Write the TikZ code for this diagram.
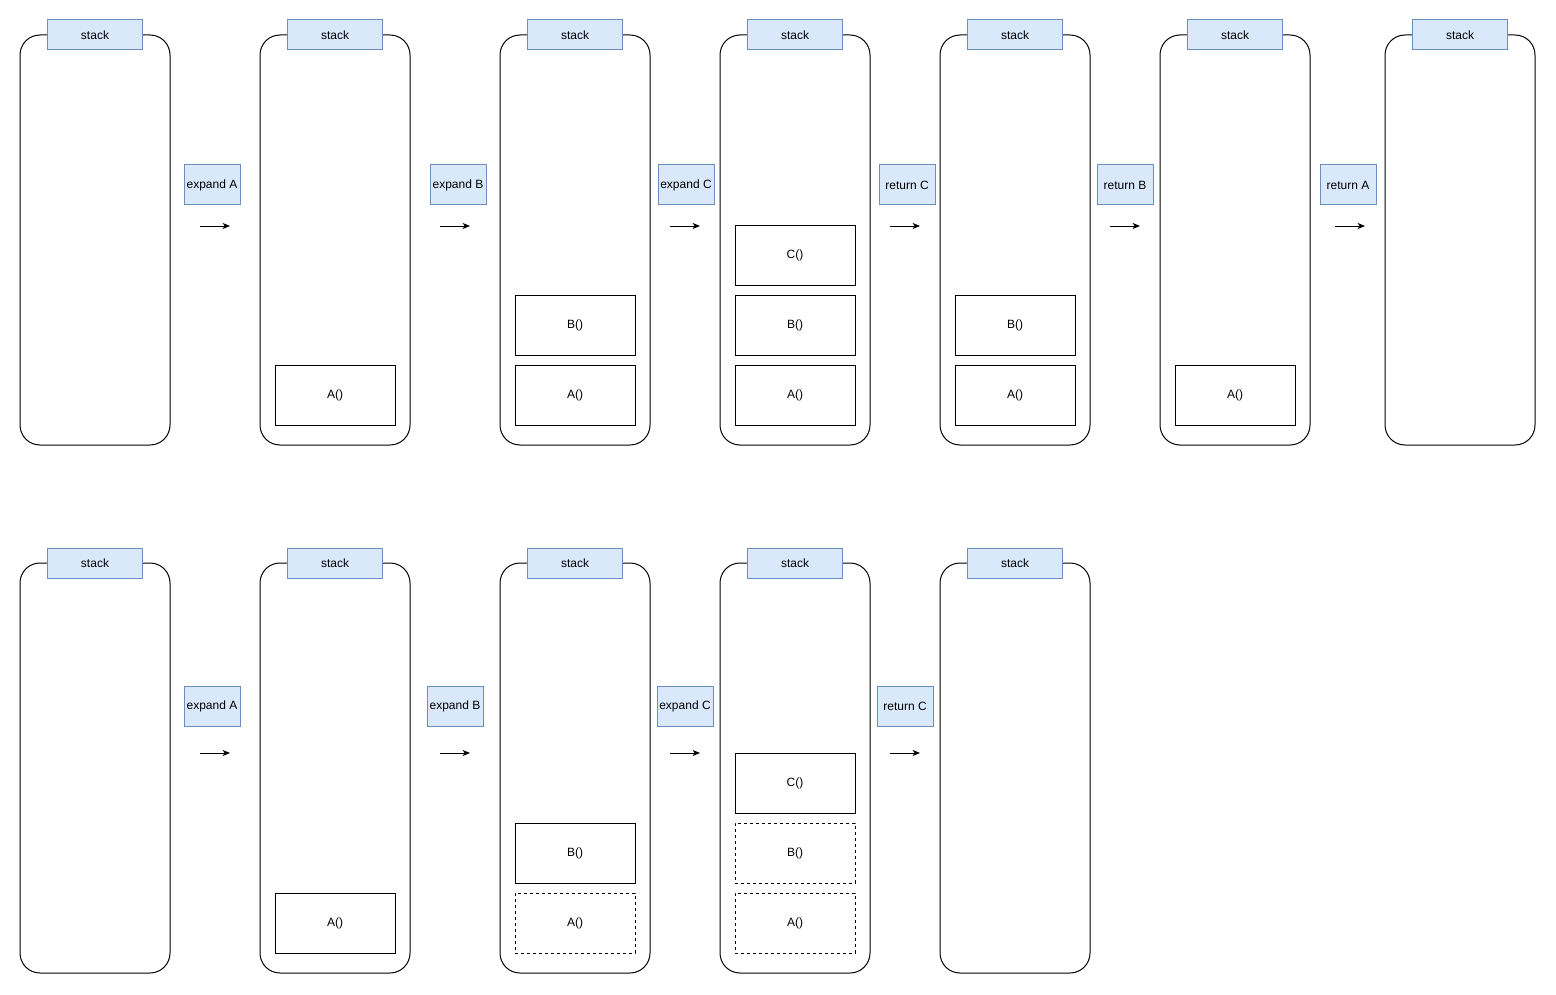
\documentclass[tikz,border=0pt]{standalone}
\usepackage{fontspec}
\setmainfont{Liberation Sans}
\usetikzlibrary{arrows.meta,positioning}
\definecolor{lblfill}{HTML}{DAE8FC}
\definecolor{lbldraw}{HTML}{6C8EBF}
\tikzset{
  stackbox/.style={rectangle, rounded corners=15pt, draw=black, line width=0.75pt, outer sep=0pt,
                   minimum width=112.5pt, minimum height=307.5pt, inner sep=0pt, anchor=north west},
  stacklbl/.style={rectangle, draw=lbldraw, fill=lblfill, line width=0.75pt,
                   minimum width=71.25pt, minimum height=22.5pt, inner sep=0pt},
  steplbl/.style={stacklbl, minimum width=42pt, minimum height=30pt},
  framebox/.style={rectangle, draw=black, line width=0.75pt, outer sep=0pt,
                   minimum width=90pt, minimum height=45pt, inner sep=0pt},
  oldframe/.style={framebox, dash pattern=on 2.25pt off 2.25pt},
  flow/.style={-{Stealth[length=5.5pt, width=4.5pt, inset=1.5pt]}, draw=black, line width=0.75pt},
}
\begin{document}
\begin{tikzpicture}[x=0.75pt, y=-0.75pt, every node/.style={font=\fontsize{9}{11}\selectfont}]
\useasboundingbox (0,0) rectangle (1556,995);

% top row: plain call stack
\node[stackbox] (t1) at (20,35) {};
\node[stackbox] (t2) at (260,35) {};
\node[stackbox] (t3) at (500,35) {};
\node[stackbox] (t4) at (720,35) {};
\node[stackbox] (t5) at (940,35) {};
\node[stackbox] (t6) at (1160,35) {};
\node[stackbox] (t7) at (1385,35) {};
\node[stacklbl] (t1l) at (t1.north) {stack};
\node[stacklbl] (t2l) at (t2.north) {stack};
\node[stacklbl] (t3l) at (t3.north) {stack};
\node[stacklbl] (t4l) at (t4.north) {stack};
\node[stacklbl] (t5l) at (t5.north) {stack};
\node[stacklbl] (t6l) at (t6.north) {stack};
\node[stacklbl] (t7l) at (t7.north) {stack};

\node[framebox, above=15pt of t2.south] (t2a) {A()};
\node[framebox, above=15pt of t3.south] (t3a) {A()};
\node[framebox, above=7.5pt of t3a] (t3b) {B()};
\node[framebox, above=15pt of t4.south] (t4a) {A()};
\node[framebox, above=7.5pt of t4a] (t4b) {B()};
\node[framebox, above=7.5pt of t4b] (t4c) {C()};
\node[framebox, above=15pt of t5.south] (t5a) {A()};
\node[framebox, above=7.5pt of t5a] (t5b) {B()};
\node[framebox, above=15pt of t6.south] (t6a) {A()};

\node[steplbl] (ts1) at (212,185) {expand A};
\node[steplbl] (ts2) at (458,185) {expand B};
\node[steplbl] (ts3) at (686,185) {expand C};
\node[steplbl] (ts4) at (907,185) {return C};
\node[steplbl] (ts5) at (1125,185) {return B};
\node[steplbl] (ts6) at (1348,185) {return A};

\coordinate (ta1) at (200,226); \coordinate (tb1) at (230,226);
\coordinate (ta2) at (440,226); \coordinate (tb2) at (470,226);
\coordinate (ta3) at (670,226); \coordinate (tb3) at (700,226);
\coordinate (ta4) at (890,226); \coordinate (tb4) at (920,226);
\coordinate (ta5) at (1110,226); \coordinate (tb5) at (1140,226);
\coordinate (ta6) at (1335,226); \coordinate (tb6) at (1365,226);
\draw[flow] (ta1) -- (tb1);
\draw[flow] (ta2) -- (tb2);
\draw[flow] (ta3) -- (tb3);
\draw[flow] (ta4) -- (tb4);
\draw[flow] (ta5) -- (tb5);
\draw[flow] (ta6) -- (tb6);

% bottom row: frames left behind
\node[stackbox] (b1) at (20,563) {};
\node[stackbox] (b2) at (260,563) {};
\node[stackbox] (b3) at (500,563) {};
\node[stackbox] (b4) at (720,563) {};
\node[stackbox] (b5) at (940,563) {};
\node[stacklbl] (b1l) at (b1.north) {stack};
\node[stacklbl] (b2l) at (b2.north) {stack};
\node[stacklbl] (b3l) at (b3.north) {stack};
\node[stacklbl] (b4l) at (b4.north) {stack};
\node[stacklbl] (b5l) at (b5.north) {stack};

\node[framebox, above=15pt of b2.south] (b2a) {A()};
\node[oldframe, above=15pt of b3.south] (b3a) {A()};
\node[framebox, above=7.5pt of b3a] (b3b) {B()};
\node[oldframe, above=15pt of b4.south] (b4a) {A()};
\node[oldframe, above=7.5pt of b4a] (b4b) {B()};
\node[framebox, above=7.5pt of b4b] (b4c) {C()};

\node[steplbl] (bs1) at (212,706) {expand A};
\node[steplbl] (bs2) at (455,706) {expand B};
\node[steplbl] (bs3) at (685,706) {expand C};
\node[steplbl] (bs4) at (905,706) {return C};

\coordinate (ba1) at (200,753); \coordinate (bb1) at (230,753);
\coordinate (ba2) at (440,753); \coordinate (bb2) at (470,753);
\coordinate (ba3) at (670,753); \coordinate (bb3) at (700,753);
\coordinate (ba4) at (890,753); \coordinate (bb4) at (920,753);
\draw[flow] (ba1) -- (bb1);
\draw[flow] (ba2) -- (bb2);
\draw[flow] (ba3) -- (bb3);
\draw[flow] (ba4) -- (bb4);
\end{tikzpicture}
\end{document}
